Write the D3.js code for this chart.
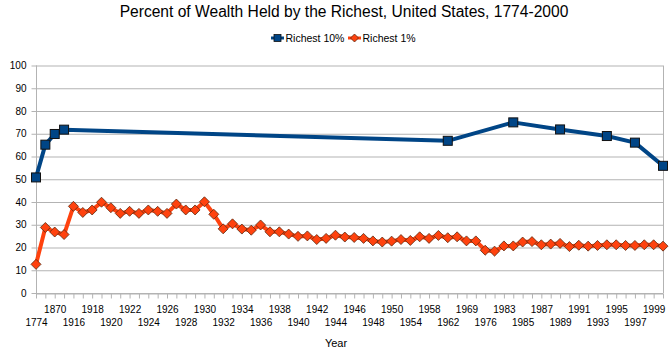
<!DOCTYPE html>
<html>
<head>
<meta charset="utf-8">
<script src="https://cdn.jsdelivr.net/npm/d3@7/dist/d3.min.js"></script>
<style>
  html, body { margin: 0; padding: 0; background: #fff; }
  svg { display: block; font-family: "Liberation Sans", Arial, sans-serif; }
</style>
</head>
<body>
<svg id="chart" width="672" height="356"></svg>
<script>
const categories = [
  "1774","1860","1870","1890",
  "1916","1917","1918","1919","1920","1921","1922","1923","1924","1925","1926","1927","1928","1929","1930",
  "1931","1932","1933","1934","1935","1936","1937","1938","1939","1940","1941","1942","1943","1944","1945",
  "1946","1947","1948","1949","1950",
  "1953","1954","1956","1958","1960","1962","1965","1969","1972","1976","1979","1983",
  "1984","1985","1986","1987","1988","1989","1990","1991","1992","1993","1994","1995","1996","1997","1998","1999","2000"
];
const richest10 = [
  50.8, 65.2, 69.9, 71.8,
  null,null,null,null,null,null,null,null,null,null,null,null,null,null,null,
  null,null,null,null,null,null,null,null,null,null,null,null,null,null,null,
  null,null,null,null,null,
  null,null,null,null,null,66.9,null,null,null,null,null,null,
  75.0,null,null,null,null,71.9,null,null,null,null,69.0,null,null,66.1,null,null,55.9
];
const richest1 = [
  12.6, 28.8, 26.8, 25.7,
  38.1, 35.4, 36.5, 39.9, 37.5, 35.0, 35.9, 35.0, 36.5, 35.9, 35.0, 39.1, 36.5, 36.5, 40.1,
  34.6, 28.2, 30.4, 28.1, 27.6, 29.9, 26.9, 26.9, 25.9, 24.9, 25.1, 23.5, 24.0, 25.4, 24.6,
  24.4, 24.0, 22.9, 22.4, 22.8,
  23.5, 23.1, 24.7, 24.0, 25.3, 24.3, 24.7, 22.9, 22.9, 18.8, 18.4, 20.7,
  20.7, 22.4, 22.6, 21.2, 21.5, 21.8, 20.4, 21.0, 20.6, 20.9, 21.2, 21.2, 20.9, 20.9, 21.2, 21.2, 20.6
];
const yTicks = [0,10,20,30,40,50,60,70,80,90,100];
const seriesNames = ["Richest 10%", "Richest 1%"];
const colors = ["#004586", "#ff420e"];

const svg = d3.select("#chart");
const pLeft = 36, pRight = 663, pTop = 65.5, pBottom = 293;

const x = d3.scalePoint().domain(categories).range([pLeft, pRight]).padding(0);
const y = d3.scaleLinear().domain([0, 100]).range([pBottom, pTop]);

// gridlines
svg.append("g")
  .attr("transform", `translate(${pLeft},0)`)
  .call(d3.axisLeft(y).tickValues(yTicks).tickSize(-(pRight - pLeft)).tickFormat(""))
  .call(g => g.select(".domain").remove())
  .call(g => g.selectAll("line").attr("stroke", "#b3b3b3").attr("stroke-width", 1));

// right border
svg.append("line").attr("x1", pRight + 0.5).attr("x2", pRight + 0.5)
  .attr("y1", pTop).attr("y2", pBottom).attr("stroke", "#b3b3b3");

// y axis
const yAxis = svg.append("g")
  .attr("transform", `translate(${pLeft + 0.5},0)`)
  .call(d3.axisLeft(y).tickValues(yTicks).tickSize(5).tickPadding(5));
yAxis.select(".domain").attr("stroke", "#b3b3b3").attr("d", `M0,${pTop}V${pBottom}`);
yAxis.selectAll("line").attr("stroke", "#b3b3b3");
yAxis.selectAll("text").attr("font-size", 10).attr("fill", "#000")
  .attr("font-family", "Liberation Sans, Arial, sans-serif");

// x axis
const xAxis = svg.append("g")
  .attr("transform", `translate(0,${pBottom + 0.5})`)
  .call(d3.axisBottom(x).tickSize(5).tickSizeOuter(0)
    .tickFormat((d, i) => i % 2 === 0 ? d : ""));
xAxis.select(".domain").attr("stroke", "#b3b3b3");
xAxis.selectAll("line").attr("stroke", "#b3b3b3");
xAxis.selectAll("text").attr("font-size", 10).attr("fill", "#000")
  .attr("font-family", "Liberation Sans, Arial, sans-serif")
  .attr("dy", null)
  .attr("y", (d, i) => (i % 4 === 0 ? 32.5 : 19.5));

// lines
const data = [richest10, richest1];
data.forEach((vals, s) => {
  const pts = categories.map((c, i) => ({ c, v: vals[i] })).filter(p => p.v != null);
  svg.append("path")
    .datum(pts)
    .attr("fill", "none")
    .attr("stroke", colors[s])
    .attr("stroke-width", 4)
    .attr("stroke-linejoin", "round")
    .attr("d", d3.line().x(p => x(p.c)).y(p => y(p.v)));
  const g = svg.append("g");
  if (s === 0) {
    g.selectAll("rect").data(pts).join("rect")
      .attr("x", p => x(p.c) - 4.5).attr("y", p => y(p.v) - 4.5)
      .attr("width", 9).attr("height", 9)
      .attr("fill", colors[0]).attr("stroke", "#111").attr("stroke-width", 1);
  } else {
    g.selectAll("path").data(pts).join("path")
      .attr("d", p => { const cx = x(p.c), cy = y(p.v), r = 5;
        return `M${cx},${cy - r}L${cx + r},${cy}L${cx},${cy + r}L${cx - r},${cy}Z`; })
      .attr("fill", colors[1]).attr("stroke", "#5a2a10").attr("stroke-width", 0.8);
  }
});

// title
svg.append("text").attr("x", 344).attr("y", 17).attr("text-anchor", "middle")
  .attr("font-size", 15.6).attr("fill", "#000")
  .text("Percent of Wealth Held by the Richest, United States, 1774-2000");

// legend
const legendX = [271, 348];
seriesNames.forEach((n, s) => {
  const lx = legendX[s], ly = 38;
  svg.append("line").attr("x1", lx).attr("x2", lx + 13).attr("y1", ly).attr("y2", ly)
    .attr("stroke", colors[s]).attr("stroke-width", 3);
  if (s === 0) {
    svg.append("rect").attr("x", lx + 3).attr("y", ly - 3.5).attr("width", 7).attr("height", 7)
      .attr("fill", colors[0]).attr("stroke", "#111").attr("stroke-width", 0.8);
  } else {
    const cx = lx + 6.5, r = 4;
    svg.append("path").attr("d", `M${cx},${ly - r}L${cx + r},${ly}L${cx},${ly + r}L${cx - r},${ly}Z`)
      .attr("fill", colors[1]).attr("stroke", "#5a2a10").attr("stroke-width", 0.8);
  }
  svg.append("text").attr("x", lx + 14.5).attr("y", ly + 4).attr("font-size", 10.5).attr("fill", "#000")
    .text(n);
});

// x axis title
svg.append("text").attr("x", 336).attr("y", 347).attr("text-anchor", "middle")
  .attr("font-size", 11).attr("fill", "#000").text("Year");
</script>
</body>
</html>
